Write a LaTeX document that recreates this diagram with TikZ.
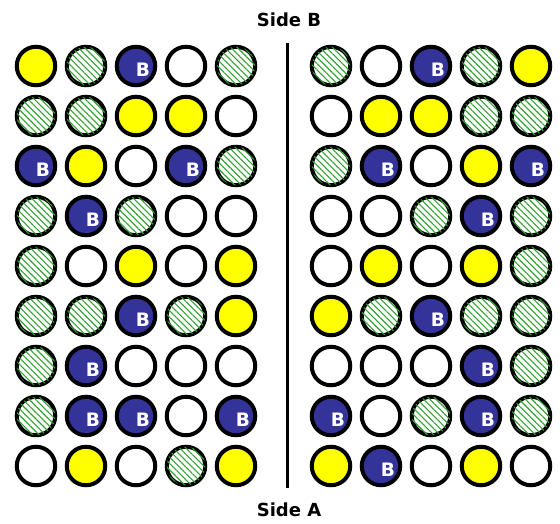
\documentclass[tikz,border=0pt]{standalone}
\usepackage{fontspec}
\setmainfont{DejaVu Sans}
\usetikzlibrary{patterns.meta}
\definecolor{bluecell}{HTML}{333399}
\definecolor{greencell}{HTML}{33A033}
\definecolor{yellowcell}{HTML}{FFFF00}
\tikzset{
  cell/.style={circle,draw=black,line width=4pt,minimum size=38.5pt,inner sep=0pt},
  cellW/.style={cell,fill=white},
  cellY/.style={cell,fill=yellowcell},
  cellG/.style={cell,fill=white,postaction={pattern={Lines[angle=-45,distance=4.5pt,line width=1.1pt]},pattern color=greencell}},
  cellB/.style={cell,fill=bluecell,label={[btext,xshift=7pt,yshift=-4pt]center:B}},
  btext/.style={text=white,font=\bfseries\fontsize{18.5}{18.5}\selectfont,inner sep=0pt},
  side/.style={font=\bfseries\fontsize{18}{18}\selectfont,inner sep=0pt}
}
\begin{document}
\begin{tikzpicture}[x=1pt,y=-1pt]
\useasboundingbox (0,0) rectangle (560,523);
% left half
\foreach \r/\cells in {1/{Y,G,B,W,G},2/{G,G,Y,Y,W},3/{B,Y,W,B,G},4/{G,B,G,W,W},5/{G,W,Y,W,Y},6/{G,G,B,G,Y},7/{G,B,W,W,W},8/{G,B,B,W,B},9/{W,Y,W,G,Y}}
  \foreach \c [count=\i] in \cells
    \node[cell\c] (L-\r-\i) at ({36+50*(\i-1)},{66+50*(\r-1)}) {};
% right half
\foreach \r/\cells in {1/{G,W,B,G,Y},2/{W,Y,Y,G,G},3/{G,B,W,Y,B},4/{W,W,G,B,G},5/{W,Y,W,Y,G},6/{Y,G,B,G,G},7/{W,W,W,B,G},8/{B,W,G,B,G},9/{Y,B,W,Y,W}}
  \foreach \c [count=\i] in \cells
    \node[cell\c] (R-\r-\i) at ({331+50*(\i-1)},{66+50*(\r-1)}) {};
% divider and labels
\coordinate (top) at (287,43);
\coordinate (bot) at (287,488);
\draw[line width=3pt] (top) -- (bot);
\node[side] (sideB) at (289,20) {Side B};
\node[side] (sideA) at (289,510) {Side A};
\end{tikzpicture}
\end{document}
